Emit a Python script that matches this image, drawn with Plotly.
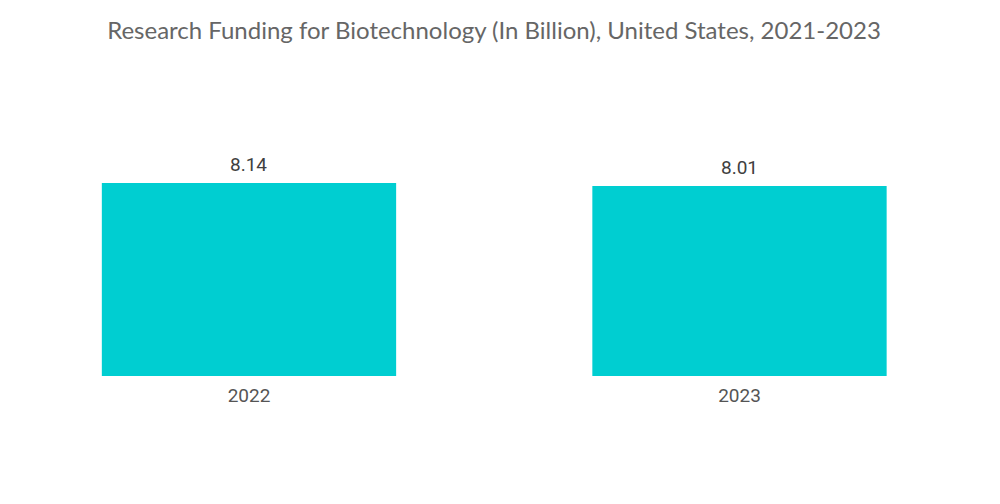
import plotly.graph_objects as go

categories = ["2022", "2023"]
values = [8.14, 8.01]
value_labels = ["8.14", "8.01"]

fig = go.Figure(go.Bar(
    x=categories, y=values,
    marker=dict(color="#00CED1", line=dict(width=0)),
    cliponaxis=False,
))
for i, (v, t) in enumerate(zip(values, value_labels)):
    fig.add_annotation(x=i, y=v, xref="x", yref="y", text=t, showarrow=False,
                       yanchor="bottom", yshift=5,
                       font=dict(family="Roboto", size=19, color="#404040"))
fig.update_layout(
    width=1000, height=504,
    margin=dict(l=0, r=0, t=72, b=136),
    paper_bgcolor="white", plot_bgcolor="white",
    bargap=0.4,
    showlegend=False,
    title=dict(text="Research Funding for Biotechnology (In Billion), United States, 2021-2023",
               x=0.486, xanchor="center", y=1 - 23/504, yanchor="middle", yref="container",
               font=dict(family="Lato", size=24, color="#666666")),
    xaxis=dict(showgrid=False, showline=False, ticks="", range=[-0.4913, 1.5474],
               ticklabelstandoff=6,
               tickfont=dict(family="Roboto", size=19, color="#555555")),
    yaxis=dict(visible=False, range=[0, 12.48]),
)
fig.write_html("out.html")
